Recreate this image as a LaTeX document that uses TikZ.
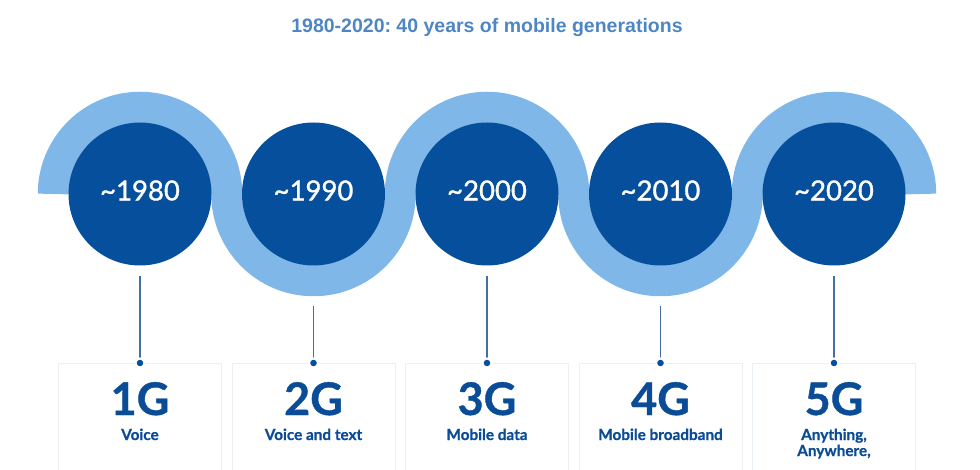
\documentclass[tikz,border=0pt]{standalone}
\usepackage{fontspec}
\setmainfont{Lato}
\newfontfamily\titlefont{Liberation Sans}
\newfontfamily\yearfont[FakeBold=1.3]{Lato}
\newfontfamily\genfont[FakeBold=0.8]{Lato}
\definecolor{darkblue}{RGB}{5,79,157}
\definecolor{lightband}{RGB}{126,183,232}
\definecolor{titleblue}{RGB}{78,134,196}
\definecolor{connblue}{RGB}{70,110,160}
\definecolor{boxgray}{RGB}{234,240,246}
\definecolor{gentext}{RGB}{10,76,150}
\frenchspacing
\begin{document}
\begin{tikzpicture}[x=1pt,y=1pt,
  band/.style={draw=lightband,line width=31pt,line cap=butt},
  yearcircle/.style={circle,fill=darkblue,minimum size=143pt,inner sep=0pt},
  yeartext/.style={text=white,font=\yearfont\fontsize{27.5}{30}\selectfont,inner sep=0pt},
  conn/.style={draw=connblue,line width=1.2pt},
  dotn/.style={circle,fill=darkblue,draw=white,line width=2pt,minimum size=9pt,inner sep=0pt},
  genbox/.style={draw=boxgray,line width=1pt,minimum width=163pt,minimum height=130pt,anchor=north,inner sep=0pt},
  gen/.style={text=gentext,font=\genfont\bfseries\fontsize{45}{48}\selectfont,anchor=base,inner sep=0pt},
  sub/.style={text=gentext,font=\genfont\bfseries\fontsize{15.3}{17}\selectfont,anchor=base,inner sep=0pt}]
\useasboundingbox (0,0) rectangle (980,-470);
\clip (0,0) rectangle (980,-470);
\node[text=titleblue,font=\titlefont\bfseries\fontsize{19.5}{22}\selectfont,anchor=base,inner sep=0pt] (title) at (487,-33) {1980-2020: 40 years of mobile generations};
% band
\draw[band] (53.25,-194) arc[start angle=180,end angle=0,radius=86.75]
  arc[start angle=180,end angle=360,radius=86.75]
  arc[start angle=180,end angle=0,radius=86.75]
  arc[start angle=180,end angle=360,radius=86.75]
  arc[start angle=180,end angle=0,radius=86.75];
% circles
\foreach \i/\x/\yr in {1/140/1980,2/313.5/1990,3/487/2000,4/660.5/2010,5/834/2020}{
  \node[yearcircle] (c\i) at (\x,-194) {};
  \node[yeartext] (t\i) at ([yshift=3.5pt]c\i.center) {\textasciitilde\yr};
  \node[genbox] (b\i) at (\x,-363) {};
}
% connectors
\draw[conn] ([yshift=-10pt]c1.south) -- (b1.north);
\draw[conn] ([yshift=-40pt]c2.south) -- (b2.north);
\draw[conn] ([yshift=-10pt]c3.south) -- (b3.north);
\draw[conn] ([yshift=-40pt]c4.south) -- (b4.north);
\draw[conn] ([yshift=-10pt]c5.south) -- (b5.north);
\foreach \i in {1,...,5}{
  \node[dotn] (d\i) at (b\i.north) {};
}
% generation labels
\node[gen] (g1) at (140,-415) {1G};
\node[gen] (g2) at (313.5,-415) {2G};
\node[gen] (g3) at (487,-415) {3G};
\node[gen] (g4) at (660.5,-415) {4G};
\node[gen] (g5) at (834,-415) {5G};
\node[sub] (s1) at (140,-440) {Voice};
\node[sub] (s2) at (313.5,-440) {Voice and text};
\node[sub] (s3) at (487,-440) {Mobile data};
\node[sub] (s4) at (660.5,-440) {Mobile broadband};
\node[sub] (s5) at (834,-440) {Anything,};
\node[sub] (s5b) at (834,-456) {Anywhere,};
\end{tikzpicture}
\end{document}
